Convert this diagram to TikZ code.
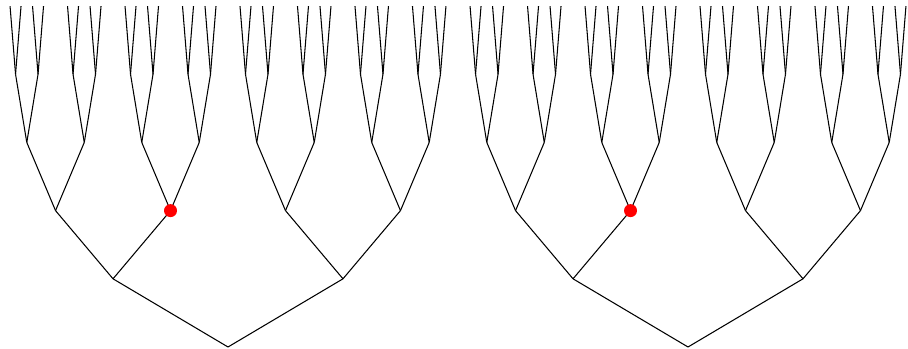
\documentclass[tikz,border=0pt]{standalone}
\usepackage{tikz}

\begin{document}
\begin{tikzpicture}[
        x=0.02cm, y=0.02cm,
        grow'=up,
        level distance=1.364cm,
        level 1/.style={sibling distance=4.6cm},
        level 2/.style={sibling distance=2.3cm},
        level 3/.style={sibling distance=1.15cm},
        level 4/.style={sibling distance=0.45cm},
        level 5/.style={sibling distance=0.22cm},
        edge from parent/.style={draw, line width=0.6pt},
        reddot/.style={circle, fill=red, inner sep=0pt, minimum size=0.26cm},
    ]

    \useasboundingbox (0,0) rectangle (908,348);

    % =============================================
    % TWO BINARY TREES, DEPTH 5
    % =============================================
    \foreach \t/\px in {A/228, B/688} {
        \node[coordinate] (\t) at (\px,1) {}
            child foreach \a in {1,2} {node[coordinate] {}
                child foreach \b in {1,2} {node[coordinate] {}
                    child foreach \c in {1,2} {node[coordinate] {}
                        child foreach \d in {1,2} {node[coordinate] {}
                            child foreach \e in {1,2} {node[coordinate] {}}}}}};
    }

    % marked vertex
    \node[reddot] (dotA) at (A-1-2) {};
    \node[reddot] (dotB) at (B-1-2) {};

\end{tikzpicture}
\end{document}
